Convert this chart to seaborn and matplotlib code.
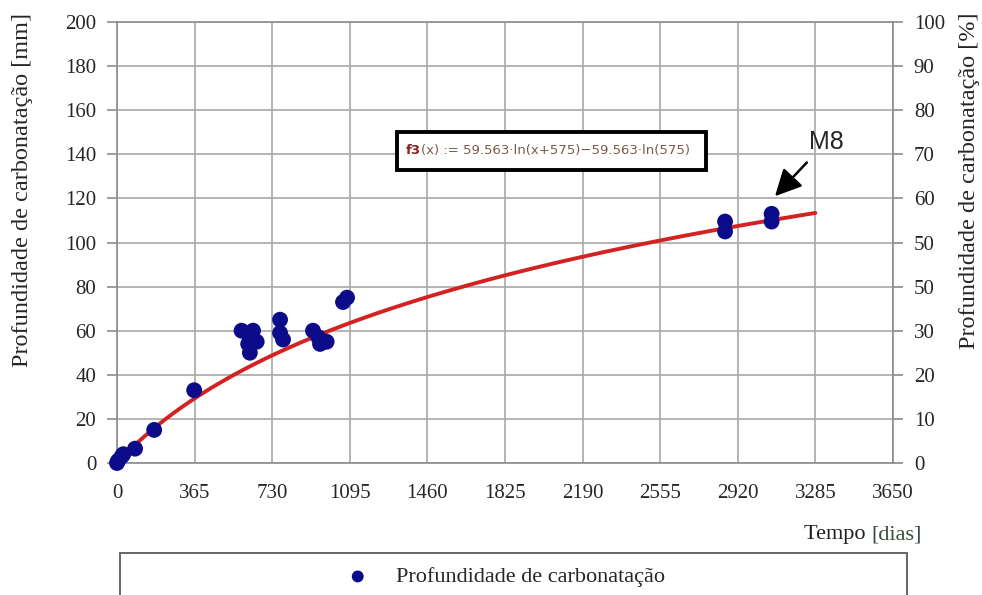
import matplotlib
matplotlib.use("Agg")
import matplotlib.pyplot as plt
import numpy as np
import pandas as pd
import seaborn as sns
from matplotlib.patches import Rectangle

sns.set_style("white")
plt.rcParams["font.family"] = ["Liberation Serif", "DejaVu Serif"]

# dados
tempo = [0, 5, 22, 30, 85, 175, 363,
         586, 640, 625, 657, 617, 625,
         767, 767, 781,
         922, 947, 955, 986,
         1063, 1082,
         2860, 2860, 3079, 3079]
profundidade = [0, 1, 3, 4, 6.5, 15, 33,
                60, 60, 57, 55, 54, 50,
                65, 59, 56,
                60, 57, 54, 55,
                73, 75,
                109.5, 105, 113, 109.5]

# curva ajustada f3(x) = a*ln(x+b) - a*ln(b)
coef_a = 59.563
coef_b = 575
t_max = 3285

x_ticks = [0, 365, 730, 1095, 1460, 1825, 2190, 2555, 2920, 3285, 3650]
y_ticks = list(range(0, 201, 20))
y2_ticks = list(range(0, 101, 10))
y2_labels = ["0", "10", "20", "30", "50", "50", "60", "70", "80", "90", "100"]

pontos = pd.DataFrame({"Tempo": tempo, "Profundidade": profundidade})
t_curva = np.linspace(0, t_max, 200)
curva = pd.DataFrame({"Tempo": t_curva,
                      "f3": coef_a * np.log(t_curva + coef_b) - coef_a * np.log(coef_b)})

fig = plt.figure(figsize=(9.82, 5.95), dpi=100)
ax = fig.add_axes([117 / 982, 1 - 463 / 595, (893 - 117) / 982, (463 - 22) / 595])

cinza = "#8c8c8c"
ax.set_xlim(0, 3650)
ax.set_ylim(0, 200)
ax.set_xticks(x_ticks)
ax.set_yticks(y_ticks)
ax.grid(True, color="#a8a8a8", lw=1.2)
ax.set_axisbelow(True)
for s in ax.spines.values():
    s.set_color(cinza)
    s.set_linewidth(1.2)

sns.lineplot(data=curva, x="Tempo", y="f3", ax=ax, color="#d42222", lw=2.8, zorder=3)
sns.scatterplot(data=pontos, x="Tempo", y="Profundidade", ax=ax, color="#0c0c8a",
                s=130, edgecolor="none", zorder=4, clip_on=False,
                label="Profundidade de carbonatação")

ax.tick_params(axis="both", labelsize=15, color=cinza, length=7, width=1.2,
               direction="out", left=True, bottom=False)
ax.tick_params(axis="x", pad=8)
ax.tick_params(axis="y", pad=8)
ax.set_xlabel("")
ax.set_ylabel("Profundidade de carbonatação [mm]", fontsize=17.5)
ax.yaxis.set_label_coords(-0.108, 0.62)

ax2 = ax.twinx()
ax2.set_ylim(0, 100)
ax2.set_yticks(y2_ticks)
ax2.set_yticklabels(y2_labels)
ax2.tick_params(axis="y", labelsize=15, color=cinza, length=7, width=1.2,
                direction="out", right=True, pad=8)
for s in ax2.spines.values():
    s.set_visible(False)
ax2.set_ylabel("Profundidade de carbonatação [%]", fontsize=17.5)
ax2.yaxis.set_label_coords(1.085, 0.64)

# caixa da equacao
ax.add_patch(Rectangle((1317, 133), 1453, 17, facecolor="white", edgecolor="black",
                       lw=2.8, zorder=5))
t1 = ax.text(1360, 141.5, "f3", fontsize=9.5, fontweight="bold", color="#8b2020",
             family="DejaVu Sans", va="center", ha="left", zorder=6)
ax.annotate("(x) := 59.563·ln(x+575)−59.563·ln(575)", xy=(1, 0.5), xycoords=t1,
            fontsize=9.5, color="#7a5a48", family="DejaVu Sans", va="center", ha="left",
            zorder=6)

# marcacao M8
ax.annotate("M8", xy=(3095, 121), xytext=(3335, 145.5), fontsize=18,
            family="Liberation Sans", ha="center", va="center", zorder=6,
            arrowprops=dict(arrowstyle="-|>,head_length=0.9,head_width=0.45",
                            color="black", lw=1.8, shrinkA=5, shrinkB=0))

# titulo do eixo x
t_dias = fig.text(922 / 982, 1 - 535 / 595, "[dias]", fontsize=16, ha="right",
                  va="center", color="#3a4a3a")
ax.annotate("Tempo ", xy=(0, 0.5), xycoords=t_dias, fontsize=16, ha="right",
            va="center", color="#202020", annotation_clip=False)

# legenda
handles, labels = ax.get_legend_handles_labels()
ax.get_legend().remove()
fig.patches.append(Rectangle((120 / 982, -0.05), (907 - 120) / 982, 0.05 + 42 / 595,
                             transform=fig.transFigure, facecolor="white",
                             edgecolor="#666666", lw=1.4))
fig.legend(handles, labels, loc="center", bbox_to_anchor=(500 / 982, 1 - 577 / 595),
           frameon=False, fontsize=16, handletextpad=0.7, markerscale=0.75)

fig.savefig("out.png", dpi=100)
